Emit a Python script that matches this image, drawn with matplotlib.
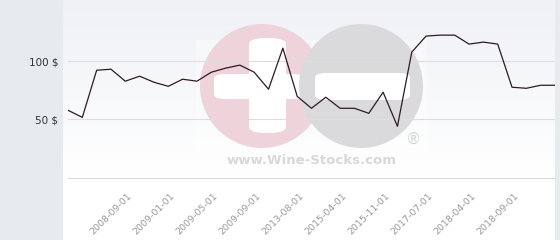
"""
Wine price history chart (Wine-Stocks style)
"""
import numpy as np
import matplotlib
matplotlib.use('Agg')
import matplotlib.pyplot as plt
from matplotlib.patches import Ellipse, FancyBboxPatch, Rectangle
from matplotlib.transforms import ScaledTranslation

# prices, one per period
prices = [57.8, 51.7, 92.2, 93.1, 82.8, 87.1, 81.9, 78.4, 84.5, 82.8,
          90.5, 94.0, 96.6, 90.5, 75.9, 111.2, 69.8, 59.5, 69.0, 59.5,
          59.5, 55.2, 73.3, 44.0, 107.8, 121.6, 122.4, 122.4, 114.7, 116.4,
          114.7, 77.6, 76.7, 79.3, 79.3]
tick_idx = [4, 7, 10, 13, 16, 19, 22, 25, 28, 31]
tick_labels = ['2008-09-01', '2009-01-01', '2009-05-01', '2009-09-01', '2013-08-01',
               '2015-04-01', '2015-11-01', '2017-07-01', '2018-04-01', '2018-09-01']
y_ticks = [50, 100]
y_labels = ['50 $', '100 $']

W, H = 560, 240
fig = plt.figure(figsize=(W / 100, H / 100), dpi=100)
fig.patch.set_facecolor('#e7ebee')

# white panel with light gradient on the plotting area
bg = fig.add_axes([63 / W, 0, (555 - 63) / W, 1])
bg.set_xlim(0, 1)
bg.set_ylim(0, 1)
bg.axis('off')
bg.add_patch(Rectangle((0, 0), 1, 1, color='white', zorder=0))
grad = np.linspace(1, 0, 100).reshape(-1, 1)
cmap = matplotlib.colors.LinearSegmentedColormap.from_list('g', ['#ffffff', '#eff1f6'])
bg.imshow(grad, extent=(0, 1, (H - 178) / H, 1), aspect='auto', cmap=cmap, zorder=1)

ax = fig.add_axes([68 / W, (H - 177.5) / H, (555 - 68) / W, 177.5 / H])
ax.patch.set_alpha(0)


def px(x, y):
    # pixel coords -> axes fraction
    return ((x - 68) / (555 - 68), (H - y - 62.5) / 177.5)


# watermark
wm = ax.transAxes
ax.add_patch(Rectangle(px(196, 173), (427 - 196) / 487, (173 - 40) / 177.5,
                       transform=wm, color='white', alpha=0.4, lw=0, zorder=1))
r = 62
ax.add_patch(Ellipse(px(262, 86), 2 * r / 487, 2 * r / 177.5,
                     transform=wm, color='#eed3db', lw=0, zorder=1))
# plus sign
ax.add_patch(FancyBboxPatch(px(214, 99), 90 / 487, 25 / 177.5, transform=wm,
                            boxstyle='round,pad=0,rounding_size=0.025',
                            color='white', lw=0, zorder=1))
ax.add_patch(FancyBboxPatch(px(249, 133), 37 / 487, 95 / 177.5, transform=wm,
                            boxstyle='round,pad=0,rounding_size=0.035',
                            color='white', lw=0, zorder=1))
ax.add_patch(Ellipse(px(361, 86), 2 * r / 487, 2 * r / 177.5,
                     transform=wm, color='#dadadc', lw=0, zorder=1))
# minus sign
ax.add_patch(FancyBboxPatch(px(315, 100), 95 / 487, 27 / 177.5, transform=wm,
                            boxstyle='round,pad=0,rounding_size=0.025',
                            color='white', lw=0, zorder=1))
ax.text(*px(413, 139), '®', transform=wm, fontsize=11, color='#d6d6d8',
        ha='center', va='center', zorder=1)
ax.text(*px(312, 161), 'www.Wine-Stocks.com', transform=wm, fontsize=9.5,
        fontweight='bold', color='#d8d8da', ha='center', va='center', zorder=1)

x = np.arange(len(prices))
ax.plot(x, prices, color='#2e1a24', linewidth=0.9, zorder=3)

ax.set_xlim(0, len(prices) - 1)
ax.set_ylim(0, 152.6)
ax.set_yticks(y_ticks)
ax.set_yticklabels(y_labels)
ax.set_xticks(tick_idx)
ax.set_xticklabels(tick_labels, rotation=45, ha='right', rotation_mode='anchor')
ax.grid(True, axis='y', color='#dddddd', linewidth=0.8, zorder=0)
ax.tick_params(axis='y', length=0, pad=7, labelsize=7.5, labelcolor='#333333')
ax.tick_params(axis='x', length=0, pad=10, labelsize=6.8, labelcolor='#999999')
for lab in ax.get_xticklabels():
    lab.set_transform(lab.get_transform() + ScaledTranslation(2 / 100, 0, fig.dpi_scale_trans))
for side in ['top', 'right', 'left']:
    ax.spines[side].set_visible(False)
ax.spines['bottom'].set_color('#dddddd')
ax.spines['bottom'].set_linewidth(0.8)

fig.savefig('out.png', dpi=100)
